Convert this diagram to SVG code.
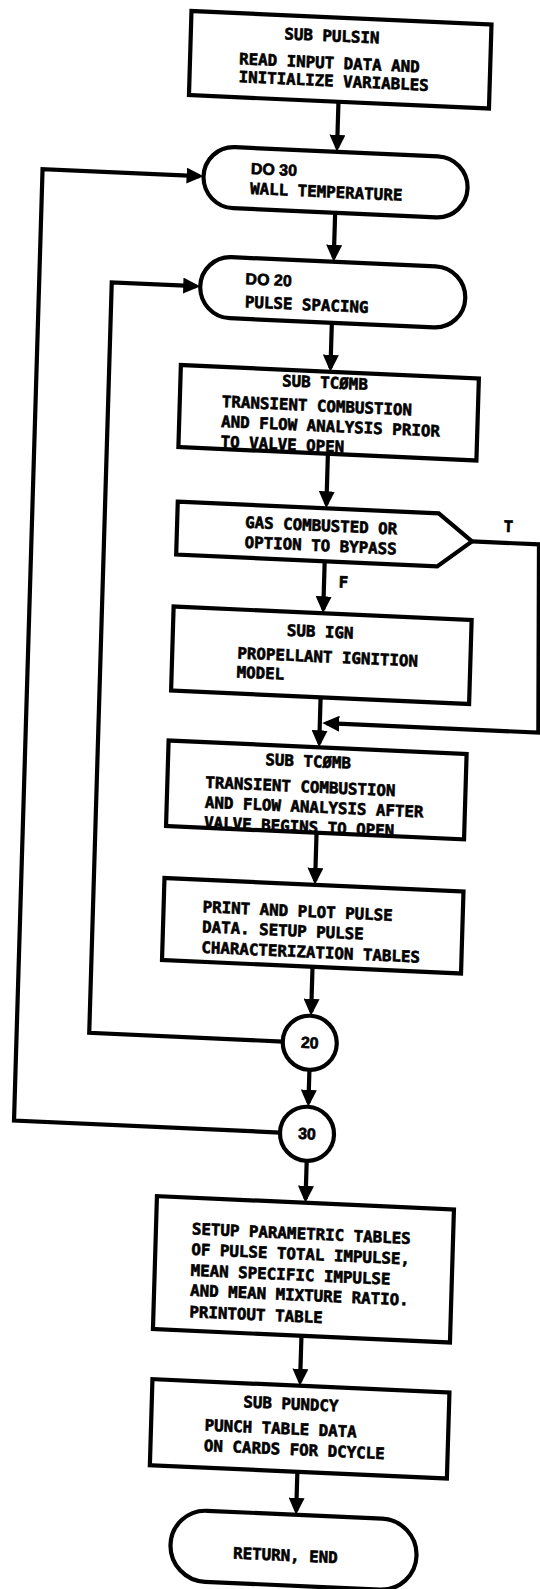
<svg xmlns="http://www.w3.org/2000/svg" width="540" height="1589" viewBox="0 0 540 1589">
<defs>
<marker id="ah" markerUnits="userSpaceOnUse" viewBox="0 0 17 16" refX="13" refY="8" markerWidth="17" markerHeight="16" orient="auto">
<path d="M0,0 L17,8 L0,16 z" fill="#000"/>
</marker>
</defs>
<style>
.box{fill:#fff;stroke:#000;stroke-width:4.2}
.ln{fill:none;stroke:#000;stroke-width:4.2;stroke-linejoin:miter}
.ar{marker-end:url(#ah)}
text{font-family:"DejaVu Sans Mono","Liberation Mono",monospace;font-weight:bold;font-size:15.8px;fill:#000;stroke:#000;stroke-width:0.6}
.d{font-family:"Liberation Sans",Arial,sans-serif;font-size:16px}
.c{text-anchor:middle}
</style>
<rect x="0" y="0" width="540" height="1589" fill="#fff"/>
<g transform="matrix(1,0.045,-0.03,1,24,-13.5)">
<g id="connectors">
<path class="ln ar" d="M317.5,101 V147"/>
<path class="ln ar" d="M317.5,212 V257"/>
<path class="ln ar" d="M317.5,322 V367"/>
<path class="ln ar" d="M317.5,453 V503.5"/>
<path class="ln ar" d="M317.5,560.5 V608.5"/>
<path class="ln ar" d="M317.5,696.5 V742.5"/>
<path class="ln ar" d="M317.5,832 V880"/>
<path class="ln ar" d="M317.5,966 V1011"/>
<path class="ln ar" d="M317.5,1069 V1102"/>
<path class="ln ar" d="M317.5,1160 V1198"/>
<path class="ln ar" d="M317.5,1335 V1381"/>
<path class="ln ar" d="M317.5,1471 V1510"/>
<path class="ln ar" d="M290,1042 H96.5 V291.5 H181"/>
<path class="ln ar" d="M290,1133 H24 V181.5 H181"/>
<path class="ln ar" d="M464,534 H531 L536,722 H324"/>
<text x="500" y="523" class="c">T</text>
<text x="332" y="586">F</text>
</g>
<g id="n_pulsin">
<rect class="box" x="168" y="17" width="300" height="84"/>
<text x="309" y="41" class="c">SUB PULSIN</text>
<text x="217" y="68">READ INPUT DATA AND</text>
<text x="217" y="86">INITIALIZE VARIABLES</text>
</g>
<g id="n_do30">
<rect class="box" x="185" y="151" width="264" height="61" rx="30.5"/>
<text x="232" y="177" class="d">DO 30</text>
<text x="232" y="197">WALL TEMPERATURE</text>
</g>
<g id="n_do20">
<rect class="box" x="185" y="261" width="265" height="61" rx="30.5"/>
<text x="230" y="287.5" class="d">DO 20</text>
<text x="230" y="310.5">PULSE SPACING</text>
</g>
<g id="n_tcomb1">
<rect class="box" x="168" y="371" width="298" height="82"/>
<text x="312.5" y="387.5" class="c">SUB TCØMB</text>
<text x="210" y="411">TRANSIENT COMBUSTION</text>
<text x="210" y="431">AND FLOW ANALYSIS PRIOR</text>
<text x="210" y="451">TO VALVE OPEN</text>
</g>
<g id="n_decision">
<polygon class="box" points="169,507.5 430,507.5 464,534 430,560.5 169,560.5"/>
<text x="313" y="530.5" class="c">GAS COMBUSTED OR</text>
<text x="313" y="550.5" class="c">OPTION TO BYPASS</text>
</g>
<g id="n_ign">
<rect class="box" x="168" y="612.5" width="298" height="84"/>
<text x="315" y="636.5" class="c">SUB IGN</text>
<text x="233" y="661.5">PROPELLANT IGNITION</text>
<text x="233" y="680.5">MODEL</text>
</g>
<g id="n_tcomb2">
<rect class="box" x="167" y="746.5" width="298" height="85.5"/>
<text x="307" y="766.5" class="c">SUB TCØMB</text>
<text x="205" y="792">TRANSIENT COMBUSTION</text>
<text x="205" y="812">AND FLOW ANALYSIS AFTER</text>
<text x="205" y="832">VALVE BEGINS TO OPEN</text>
</g>
<g id="n_print">
<rect class="box" x="167" y="884" width="299" height="82"/>
<text x="206" y="916.5">PRINT AND PLOT PULSE</text>
<text x="206" y="936.5">DATA. SETUP PULSE</text>
<text x="206" y="957">CHARACTERIZATION TABLES</text>
</g>
<g id="n_c20">
<circle class="box" cx="317" cy="1042" r="27"/>
<text x="317" y="1047.5" class="c d">20</text>
</g>
<g id="n_c30">
<circle class="box" cx="317" cy="1133" r="27"/>
<text x="317" y="1138.5" class="c d">30</text>
</g>
<g id="n_param">
<rect class="box" x="169" y="1202" width="297" height="133"/>
<text x="205" y="1238.5">SETUP PARAMETRIC TABLES</text>
<text x="205" y="1259">OF PULSE TOTAL IMPULSE,</text>
<text x="205" y="1280">MEAN SPECIFIC IMPULSE</text>
<text x="205" y="1300">AND MEAN MIXTURE RATIO.</text>
<text x="205" y="1321.5">PRINTOUT TABLE</text>
</g>
<g id="n_pundcy">
<rect class="box" x="170" y="1385" width="297" height="86"/>
<text x="309" y="1409" class="c">SUB PUNDCY</text>
<text x="223.5" y="1434">PUNCH TABLE DATA</text>
<text x="223.5" y="1454.5">ON CARDS FOR DCYCLE</text>
</g>
<g id="n_return">
<rect class="box" x="193" y="1514" width="246" height="71" rx="35.5"/>
<text x="308" y="1560.5" class="c">RETURN, END</text>
</g>
</g>
</svg>
